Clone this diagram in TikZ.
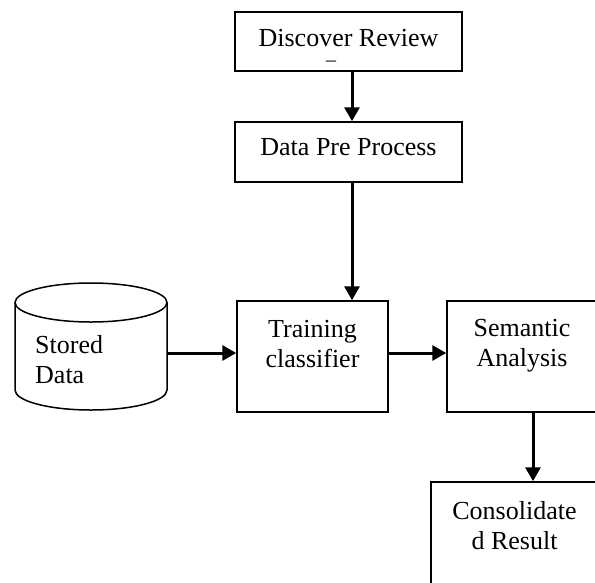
\documentclass[tikz,border=0pt]{standalone}
\usepackage{fontspec}
\setmainfont{Liberation Serif}
\usetikzlibrary{positioning,arrows.meta}

\begin{document}
\begin{tikzpicture}[x=1pt, y=-1pt,
        box/.style={rectangle, draw, line width=1.5pt, inner sep=0pt},
        txt/.style={align=center, inner sep=0pt, font=\fontsize{26}{30}\selectfont},
        flow/.style={line width=3pt, -{Triangle[width=15pt,length=14pt]}}]
        \clip (0,0) rectangle (595,582);
        % boxes
        \node[box, minimum width=227pt, minimum height=59pt] (disc) at (348.5,41.5) {};
        \node[box, minimum width=227pt, minimum height=60pt] (pre) at (348.5,152) {};
        \node[box, minimum width=151pt, minimum height=111pt] (train) at (312.5,356.5) {};
        \node[box, minimum width=150pt, minimum height=111pt] (sem) at (522,356.5) {};
        \node[box, minimum width=167pt, minimum height=118pt] (cons) at (514.5,541) {};
        % data store drum
        \node[minimum width=152pt, minimum height=127pt, inner sep=0pt] (store) at (91,346.5) {};
        \draw[line width=1.5pt] (91,302.5) ellipse [x radius=76pt, y radius=19.5pt];
        \draw[line width=1.5pt] (15,302.5) -- (15,390)
            arc [start angle=180, end angle=360, x radius=76pt, y radius=20pt] -- (167,302.5);
        % texts
        \node[txt, anchor=north] (disc-t) at (348.5,29) {Discover Review};
        \node[txt, anchor=base, font=\fontsize{20}{20}\selectfont] (disc-u) at (331,59) {\_};
        \node[txt, anchor=north] (pre-t) at (348.5,138) {Data Pre Process};
        \node[txt, anchor=north] (train-t) at (312.5,320) {Training\\classifier};
        \node[txt, anchor=north] (sem-t) at (522,319) {Semantic\\Analysis};
        \node[txt, anchor=north] (cons-t) at (514.5,501) {Consolidate\\d Result};
        \node[txt, anchor=north west, align=left] (store-t) at (35,335) {Stored\\Data};
        % arrows
        \draw[flow] ([xshift=3.5pt]disc.south) -- ([xshift=3.5pt]pre.north);
        \draw[flow] ([xshift=3.5pt]pre.south) -- ([xshift=3.5pt]pre.south |- train.north);
        \draw[flow] ([yshift=-6.5pt]store.east) -- ([yshift=3.5pt]train.west);
        \draw[flow] ([yshift=3.5pt]train.east) -- ([yshift=3.5pt]sem.west);
        \draw[flow] ([xshift=11pt]sem.south) -- ([xshift=11pt]sem.south |- cons.north);
    \end{tikzpicture}
\end{document}
